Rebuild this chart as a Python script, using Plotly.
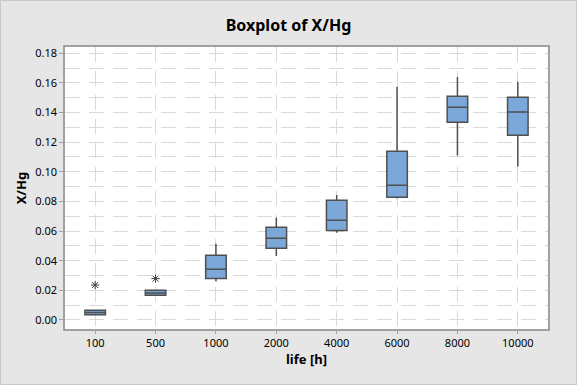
import plotly.graph_objects as go

categories = ["100", "500", "1000", "2000", "4000", "6000", "8000", "10000"]
q1 = [0.0036, 0.0167, 0.0279, 0.0484, 0.0603, 0.0828, 0.1334, 0.1247]
median = [0.0051, 0.0182, 0.0342, 0.0551, 0.0673, 0.0909, 0.1436, 0.1404]
q3 = [0.0066, 0.0200, 0.0437, 0.0626, 0.0808, 0.1139, 0.1510, 0.1503]
lower = [0.0036, 0.0167, 0.0259, 0.0432, 0.0589, 0.0819, 0.1109, 0.1035]
upper = [0.0066, 0.0200, 0.0515, 0.0689, 0.0844, 0.1573, 0.1640, 0.1607]
outlier_x = ["100", "500"]
outlier_y = [0.0236, 0.0279]
y_ticks = [0.00, 0.02, 0.04, 0.06, 0.08, 0.10, 0.12, 0.14, 0.16, 0.18]

FONT = "Noto Sans"
GRID = "#d9d9d9"

fig = go.Figure()
fig.add_trace(go.Box(
    x=categories, q1=q1, median=median, q3=q3,
    lowerfence=lower, upperfence=upper,
    fillcolor="#7ba7d9", line=dict(color="#4f4f4f", width=1.5),
    width=0.34, whiskerwidth=0, boxpoints=False, showlegend=False,
    hoverinfo="y",
))
fig.add_trace(go.Scatter(
    x=outlier_x, y=outlier_y, mode="markers",
    marker=dict(symbol="asterisk-open", size=7, color="#404040",
                line=dict(color="#404040", width=1)),
    showlegend=False,
))

fig.update_layout(
    width=577, height=385,
    margin=dict(l=65, r=29, t=47, b=56),
    paper_bgcolor="#e6e6e6", plot_bgcolor="white",
    font=dict(family=FONT, size=11, color="#000000"),
    title=dict(text="Boxplot of X/Hg", x=0.5, xanchor="center", y=1 - 25/385, yanchor="middle",
               font=dict(family=FONT, size=16, color="#000000", weight="bold")),
)
fig.update_xaxes(
    type="category", categoryorder="array", categoryarray=categories,
    range=[-0.5, 7.5], automargin=False,
    showgrid=True, gridcolor=GRID, griddash="15px,9px", gridwidth=1,
    showline=True, linecolor="#a0a0a0", linewidth=1.5, mirror=True,
    ticks="outside", ticklen=3, tickcolor="#a0a0a0",
    title=dict(text="life [h]", font=dict(family=FONT, size=13, weight="bold"), standoff=5),
    zeroline=False,
)
fig.update_yaxes(
    range=[-0.0061, 0.1842], tickvals=y_ticks, tickformat=".2f", automargin=False,
    showgrid=True, gridcolor=GRID, griddash="15px,9px", gridwidth=1,
    minor=dict(dtick=0.01, tick0=0, showgrid=True, gridcolor=GRID, griddash="15px,9px", gridwidth=1),
    showline=True, linecolor="#a0a0a0", linewidth=1.5, mirror=True,
    ticks="outside", ticklen=4, tickcolor="#a0a0a0",
    title=dict(text="X/Hg", font=dict(family=FONT, size=13, weight="bold"), standoff=6),
    zeroline=False,
)
fig.add_shape(type="rect", xref="paper", yref="paper",
              x0=-64.5/483, x1=1 + 28.5/483, y0=-55.5/282, y1=1 + 46.5/282,
              line=dict(color="#c8c8c8", width=1), fillcolor="rgba(0,0,0,0)", layer="below")

fig.write_html("out.html", config={"displayModeBar": False},
               post_script="document.body.style.margin='0';")
